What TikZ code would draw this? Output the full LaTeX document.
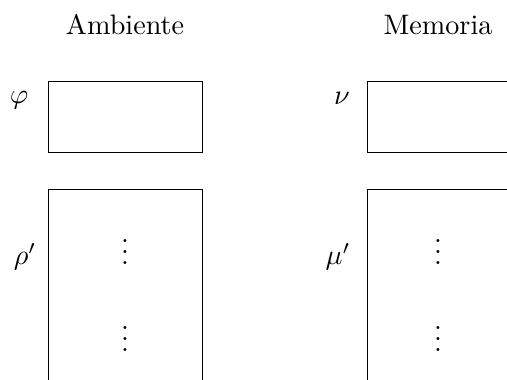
\documentclass[tikz,border=0pt]{standalone}
\begin{document}
\begin{tikzpicture}[x=0.355pt,y=-0.355pt,
  box/.style={draw, line width=0.4pt, inner sep=0pt, anchor=north west},
  lbl/.style={inner sep=0pt, anchor=base}]
\useasboundingbox (0,0) rectangle (507,380);
\clip (0,0) rectangle (507,380);
% boxes
\node[box, minimum width=154*0.355pt, minimum height=71.3*0.355pt] (envtop) at (48.3,80.7) {};
\node[box, minimum width=154*0.355pt, minimum height=214*0.355pt] (envbot) at (48.3,189) {};
\node[box, minimum width=143*0.355pt, minimum height=71.3*0.355pt] (memtop) at (366.7,80.7) {};
\node[box, minimum width=143*0.355pt, minimum height=214*0.355pt] (membot) at (366.7,189) {};
% titles
\node[lbl] (tamb) at (125,35) {Ambiente};
\node[lbl] (tmem) at (438,35) {Memoria};
% labels
\node[lbl] (phi) at (19,104) {$\varphi$};
\node[lbl] (nu) at (342,105) {$\nu$};
\node[lbl] (rho) at (25,264.5) {$\rho'$};
\node[lbl] (mu) at (338,264.5) {$\mu'$};
% dots
\node[lbl] (d1) at (125,264.8) {$\vdots$};
\node[lbl] (d2) at (125,351.8) {$\vdots$};
\node[lbl] (d3) at (438,264.8) {$\vdots$};
\node[lbl] (d4) at (438,351.8) {$\vdots$};
\end{tikzpicture}
\end{document}
